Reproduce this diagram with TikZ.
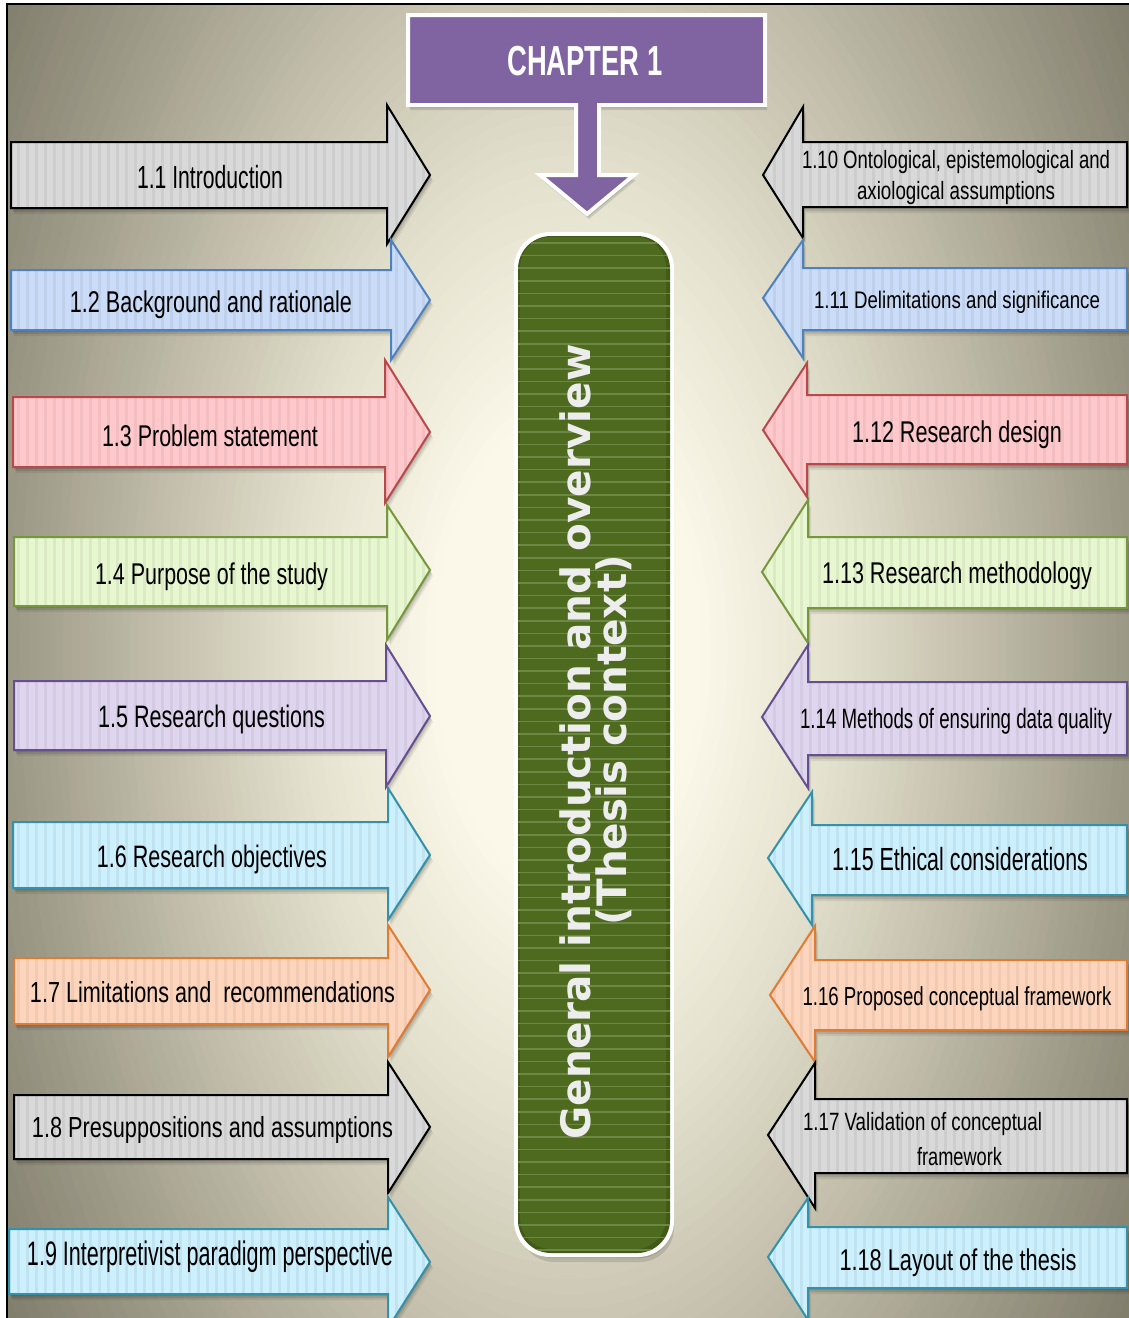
\documentclass[tikz,border=0pt]{standalone}
\usepackage{fontspec}
\usepackage{graphicx}
\setmainfont{Liberation Sans}
\newfontfamily\boxfont{DejaVu Sans}

% slide backdrop tones, centre to rim
\definecolor{bgA}{HTML}{FBF8EA}
\definecolor{bgB}{HTML}{E4E1CE}
\definecolor{bgC}{HTML}{C4C0AD}
\definecolor{bgD}{HTML}{A29E8C}
\definecolor{bgE}{HTML}{7D7968}

% arrow colours (fill / outline)
\definecolor{grfill}{HTML}{D9D9D9}\definecolor{grline}{HTML}{000000}
\definecolor{blfill}{HTML}{CADCF8}\definecolor{blline}{HTML}{4F81BD}
\definecolor{rdfill}{HTML}{FFC9CC}\definecolor{rdline}{HTML}{B9484A}
\definecolor{gnfill}{HTML}{E7F7D0}\definecolor{gnline}{HTML}{77973F}
\definecolor{lvfill}{HTML}{E0D5EE}\definecolor{lvline}{HTML}{65508F}
\definecolor{cyfill}{HTML}{CCF0FD}\definecolor{cyline}{HTML}{3590A8}
\definecolor{orfill}{HTML}{FDD5BC}\definecolor{orline}{HTML}{E07B33}
\definecolor{chap}{HTML}{8064A2}
\definecolor{boxgreen}{HTML}{4E6A1E}
\definecolor{boxedge}{HTML}{425A17}
\definecolor{boxstripe}{HTML}{6D8744}
\definecolor{boxtext}{HTML}{EDEDED}

% label text squeezed to a given width: #1 width (pt), #2 size (pt), #3 text
\newcommand\lbl[3]{\resizebox{#1pt}{\height}{\fontsize{#2}{#2}\selectfont #3}}

% block arrow: #1 tail x, #2 head base x, #3 tip x, #4/#5 shaft top/bottom,
% #6/#7 head top/bottom, #8 tip y, #9 colour prefix
\newcommand\slidearrow[9]{%
  \def\ap{(#1,#4) -- (#2,#4) -- (#2,#6) -- (#3,#8) -- (#2,#7) -- (#2,#5) -- (#1,#5) -- cycle}%
  \fill[black,opacity=0.10,shift={(1,2)}] \ap;
  \fill[black,opacity=0.10,shift={(2,4)}] \ap;
  \fill[black,opacity=0.07,shift={(3,6)}] \ap;
  \fill[#9fill] \ap;
  \begin{scope}
    \clip \ap;
    \foreach \s in {0,9,...,1134} \draw[vstripe] (\s,#6) -- (\s,#7);
  \end{scope}
  \draw[#9line, line width=2, line join=miter] \ap;
}

\begin{document}
\begin{tikzpicture}[x=1pt,y=-1pt,
  vstripe/.style={black, opacity=0.05, line width=3},
  lab/.style={inner sep=0pt, anchor=base, text=black},
  gtext/.style={inner sep=0pt, anchor=base, text=boxtext, rotate=90,
    font=\boxfont\bfseries\fontsize{40}{40}\selectfont},
  chaptext/.style={inner sep=0pt, anchor=base, text=white}]

\useasboundingbox (0,0) rectangle (1129,1318);
\fill[white] (0,0) rectangle (1129,1318);
% elliptical backdrop built from nested ellipses, dark rim to pale centre
\begin{scope}
  \clip (7,4) rectangle (1129,1318);
  \fill[bgE] (7,4) rectangle (1129,1318);
  \foreach \ra/\rb/\ca/\cb in {62/48/bgE/bgD, 48/36/bgD/bgC, 36/24/bgC/bgB, 24/12/bgB/bgA} {
    \foreach \i in {0,...,15} {
      \pgfmathsetmacro\rr{(\ra-(\ra-\rb)*\i/16)*11.22}
      \pgfmathsetmacro\pp{100*\i/16}
      \fill[\cb!\pp!\ca] (568,650) ellipse [x radius=\rr, y radius=1.78*\rr];
    }
  }
  \fill[bgA] (568,650) ellipse [x radius=134.6, y radius=239.6];
\end{scope}
\draw[black, line width=1.2] (7,1318) -- (7,4) -- (1129,4);

% left column
\slidearrow{11}{387}{430}{142}{208}{105}{244}{175}{gr}
\slidearrow{11}{391}{430}{270}{330}{240}{360}{300}{bl}
\slidearrow{13}{385}{430}{397}{467}{360}{503}{432}{rd}
\slidearrow{14}{387}{430}{537}{606}{505}{640}{570}{gn}
\slidearrow{14}{386}{430}{681}{750}{645}{787}{716}{lv}
\slidearrow{13}{388}{430}{822}{888}{788}{920}{855}{cy}
\slidearrow{14}{388}{430}{958}{1024}{925}{1057}{990}{or}
\slidearrow{14}{388}{430}{1095}{1159}{1062}{1193}{1127}{gr}
\slidearrow{9}{388}{430}{1229}{1294}{1197}{1328}{1262}{cy}

% right column
\slidearrow{1127}{803}{763}{142}{207}{107}{238}{175}{gr}
\slidearrow{1127}{803}{763}{268}{330}{240}{358}{298}{bl}
\slidearrow{1127}{807}{763}{395}{464}{363}{497}{430}{rd}
\slidearrow{1127}{808}{762}{537}{608}{500}{643}{572}{gn}
\slidearrow{1127}{808}{762}{682}{755}{645}{788}{717}{lv}
\slidearrow{1127}{812}{768}{825}{895}{792}{925}{858}{cy}
\slidearrow{1127}{815}{770}{960}{1030}{926}{1062}{995}{or}
\slidearrow{1127}{815}{768}{1099}{1173}{1063}{1208}{1135}{gr}
\slidearrow{1127}{808}{768}{1227}{1288}{1198}{1320}{1257}{cy}

% labels, left
\node[lab] (l1) at (210,188) {\lbl{146}{32}{1.1 Introduction}};
\node[lab] (l2) at (211,312) {\lbl{282}{30}{1.2 Background and rationale}};
\node[lab] (l3) at (210,446) {\lbl{216}{30}{1.3 Problem statement}};
\node[lab] (l4) at (211.5,584) {\lbl{233}{30}{1.4 Purpose of the study}};
\node[lab] (l5) at (211.5,727) {\lbl{227}{31}{1.5 Research questions}};
\node[lab] (l6) at (212,867) {\lbl{230}{31}{1.6 Research objectives}};
\node[lab] (l7) at (212.5,1002) {\lbl{365}{29}{1.7 Limitations and\ \ recommendations}};
\node[lab] (l8) at (212.5,1137) {\lbl{361}{29}{1.8 Presuppositions and assumptions}};
\node[lab] (l9) at (210,1265) {\lbl{366}{34}{1.9 Interpretivist paradigm perspective}};

% labels, right
\node[lab] (r10a) at (956,168) {\lbl{308}{25}{1.10 Ontological, epistemological and}};
\node[lab] (r10b) at (956,199) {\lbl{198}{25}{axiological assumptions}};
\node[lab] (r11) at (957,308) {\lbl{286}{24}{1.11 Delimitations and significance}};
\node[lab] (r12) at (957,442) {\lbl{210}{30}{1.12 Research design}};
\node[lab] (r13) at (957,583) {\lbl{270}{30}{1.13 Research methodology}};
\node[lab] (r14) at (956,728) {\lbl{312}{28}{1.14 Methods of ensuring data quality}};
\node[lab] (r15) at (960,870) {\lbl{256}{32}{1.15 Ethical considerations}};
\node[lab] (r16) at (957,1005) {\lbl{309}{26}{1.16 Proposed conceptual framework}};
\node[lab] (r17a) at (922.5,1130) {\lbl{239}{25}{1.17 Validation of conceptual}};
\node[lab] (r17b) at (959.5,1165) {\lbl{85}{25}{framework}};
\node[lab] (r18) at (958,1270) {\lbl{237}{30}{1.18 Layout of the thesis}};

% chapter banner with downward arrow
\def\chappath{(408,15) -- (765,15) -- (765,105) -- (599,105) -- (599,175) -- (634,175) -- (587,214) -- (540,175) -- (576,175) -- (576,105) -- (408,105) -- cycle}
\fill[black,opacity=0.12,shift={(1,3)}] \chappath;
\fill[black,opacity=0.12,shift={(2,5)}] \chappath;
\filldraw[fill=chap, draw=white, line width=4, line join=miter] \chappath;
\node[chaptext] (chapter) at (585,75) {\resizebox{155pt}{\height}{\bfseries\fontsize{42}{42}\selectfont CHAPTER 1}};

% central overview bar
\def\barpath{(517,235) rectangle (671,1254)}
\fill[black,opacity=0.12,rounded corners=34,shift={(2,4)}] \barpath;
\fill[black,opacity=0.12,rounded corners=34,shift={(3,8)}] \barpath;
\fill[white,rounded corners=36] (514,232) rectangle (674,1257);
\fill[boxedge,rounded corners=33] (518,236) rectangle (670,1253);
\fill[boxgreen,rounded corners=31] (520,237) rectangle (666,1249);
\begin{scope}
  \clip[rounded corners=33] (518,236) rectangle (670,1253);
  \foreach \k in {0,...,80} \draw[boxstripe, line width=1.6] (518,243+12.59*\k) -- (670,243+12.59*\k);
\end{scope}
\node[gtext] (overview) at (590,742) {\resizebox{795pt}{!}{General introduction and overview}};
\node[gtext] (context) at (626,740) {\resizebox{370pt}{!}{(Thesis context)}};

\end{tikzpicture}
\end{document}
